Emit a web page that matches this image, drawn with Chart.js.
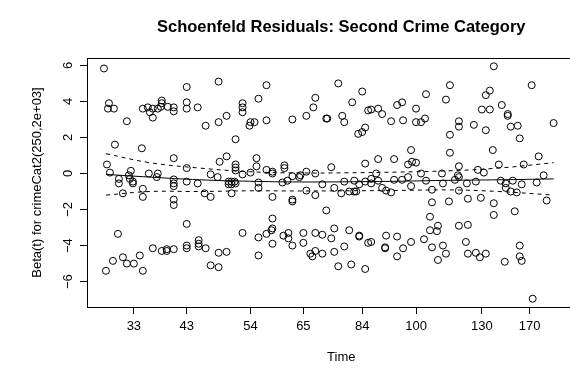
<!DOCTYPE html>
<html><head><meta charset="utf-8">
<script src="https://cdn.jsdelivr.net/npm/chart.js@4/dist/chart.umd.min.js"></script>
<style>html,body{margin:0;padding:0;overflow:hidden;background:#fff;width:570px;height:381px}
#wrap{position:relative;width:600px;height:381px}</style></head>
<body><div id="wrap"><canvas id="c" width="600" height="381"></canvas></div>
<script>
const chartTitle = 'Schoenfeld Residuals: Second Crime Category';
const xTitle = 'Time';
const yTitle = 'Beta(t) for crimeCat2(250,2e+03]';
// x axis is the KM-transformed time scale (arbitrary transformed units)
const xTickPos = [34, 87, 151, 204, 263, 317, 383, 431];
const xTickLabels = ['33', '43', '54', '65', '84', '100', '130', '170'];
const yTickVals = [-6, -4, -2, 0, 2, 4, 6];
const yTickLabels = ['\u22126', '\u22124', '\u22122', '0', '2', '4', '6'];

const residT = [4,9,8,14,27,15,42,43,48,50,53,53,58,62,62,61,68,74,74,87,87,87,98,106,119,119,127,74,127,120,
7,10,31,29,19,49,58,57,87,111,118,74,87,98,19,30,33,33,74,74,129,129,23,43,43,74,74,105,111,87,
18,53,62,67,67,74,87,87,99,99,99,106,119,127,6,13,23,27,34,40,43,111,119,167,159,143,143,143,150,151,
155,167,136,193,207,214,216,227,228,239,243,245,253,263,259,263,266,269,136,136,136,143,151,157,157,167,173,173,185,185,
193,200,201,207,216,232,266,132,135,159,183,188,223,245,255,266,132,136,159,235,132,173,193,193,207,216,242,250,255,257,
227,173,173,172,143,159,167,184,189,189,193,173,159,204,204,216,216,211,213,223,223,235,232,235,245,239,250,260,252,266,
269,395,351,347,387,391,327,298,303,272,279,283,317,292,304,317,322,326,383,391,403,409,409,412,419,421,360,360,351,375,
387,279,295,312,309,313,317,351,360,394,400,425,277,272,295,303,309,322,327,343,344,356,359,360,368,377,379,385,402,407,
414,260,272,279,283,287,292,312,333,360,407,412,418,423,333,350,369,382,331,395,395,416,339,331,338,360,369,260,272,287,
298,286,286,304,298,312,325,333,344,347,339,367,369,377,381,387,406,421,421,423,433,455,434,440,445,448,438];
const residBeta = [5.83,3.9,3.6,3.6,2.9,1.6,1.4,3.6,3.67,3.4,3.1,3.6,3.6,4.05,3.9,3.7,3.7,3.67,3.45,4.8,3.95,3.6,3.67,2.65,5.1,2.85,3.2,0.85,0.95,0.65,
0.5,0.05,0.15,-0.1,-0.3,0,0,-0.2,0.3,-0.05,-0.2,-0.33,-0.45,-0.55,-0.55,-0.3,-0.45,-0.55,-0.55,-0.7,-0.45,-0.6,-1.1,-0.85,-1.3,-1.45,-1.75,-1.1,-1.3,-2.8,
-3.35,-4.15,-4.3,-4.2,-4.3,-4.2,-4.0,-4.15,-3.7,-3.9,-4.05,-4.15,-4.4,-4.35,-5.4,-4.85,-4.65,-5.0,-5.0,-4.55,-5.4,-5.1,-5.2,4.9,4.15,3.9,3.67,3.4,2.65,2.85,
2.85,2.95,1.9,3.0,3.2,3.67,4.2,3.05,3.05,5.0,3.2,2.85,3.95,4.55,2.2,2.3,2.55,3.5,0.5,0.33,0.17,-0.05,0.05,0.85,0.4,0.2,0.1,0,0.45,0.3,
-0.15,-0.2,-0.1,0.1,0,0.35,0.55,-0.45,-0.45,-0.5,-0.5,-0.4,-0.6,-0.45,-0.4,-0.45,-0.6,-0.55,-0.8,-0.8,-1.1,-1.3,-1.45,-1.55,-0.95,-1.2,-1.1,-1.0,-1.0,-1.0,
-2.05,-2.5,-3.05,-3.15,-3.3,-3.55,-3.35,-3.45,-3.3,-3.6,-4.0,-3.9,-4.55,-3.3,-3.85,-3.3,-4.3,-4.45,-4.6,-3.4,-4.45,-3.05,-3.6,-4.35,-4.05,-5.15,-3.15,-3.5,-5.05,-5.3,
-3.85,5.95,4.9,4.1,4.35,4.6,4.4,3.8,3.95,3.55,3.6,3.3,3.6,2.9,2.95,2.85,2.85,3.05,3.55,3.55,3.8,3.3,3.2,2.6,2.65,1.95,2.9,2.6,2.15,2.7,
2.4,0.8,0.8,1.3,0.5,0.65,0.6,1.15,0.4,1.3,0.5,0.5,0,-0.3,-0.35,-0.35,-0.2,0,-0.4,0,-0.55,-0.35,-0.1,-0.2,-0.55,-0.45,0.2,0.05,-0.4,-0.55,
-0.4,-0.6,-0.55,-0.4,-0.8,-0.95,-1.05,-0.7,-0.9,-0.95,-0.8,-1.0,-1.05,-0.6,-1.6,-1.55,-1.4,-1.35,-2.4,-1.65,-2.3,-2.1,-2.9,-3.15,-3.2,-2.9,-2.85,-3.45,-3.8,-3.45,
-3.5,-4.1,-4.15,-4.15,-4.6,-3.8,-3.65,-4.1,-4.0,-4.45,-4.8,-3.8,-4.45,-4.4,-4.65,-4.45,-4.9,-4.0,-4.6,-4.85,4.9,2.8,-6.95,0.95,-0.1,-1.5,-0.5];

const fitT = [6, 50, 100, 150, 200, 250, 300, 350, 400, 455];
const fitBeta = [-0.05, -0.2, -0.35, -0.43, -0.47, -0.46, -0.43, -0.38, -0.35, -0.3];
const fitUpper = [1.1, 0.6, 0.3, 0.1, 0.03, 0.04, 0.08, 0.15, 0.3, 0.6];
const fitLower = [-1.2, -1.0, -1.0, -0.96, -0.97, -0.96, -0.94, -0.91, -1.0, -1.2];

const FONT = "'Liberation Sans', Arial, Helvetica, sans-serif";
const pts = residT.map((t, i) => ({x: t, y: residBeta[i]}));
const mk = arr => fitT.map((t, i) => ({x: t, y: arr[i]}));

const frame = {
  id: 'frame',
  afterDraw(chart) {
    const ctx = chart.ctx, a = chart.chartArea;
    ctx.save();
    ctx.strokeStyle = '#000'; ctx.lineWidth = 1;
    const l = Math.round(a.left) + 0.5, t = Math.round(a.top) + 0.5, r = Math.round(a.right) + 0.5, b = Math.round(a.bottom) + 0.5;
    ctx.strokeRect(l, t, r - l, b - t);
    ctx.fillStyle = '#000';
    const ys = chart.scales.y;
    ctx.font = '13px ' + FONT;
    ctx.textAlign = 'center'; ctx.textBaseline = 'middle';
    yTickVals.forEach((v, i) => {
      const py = ys.getPixelForValue(v);
      ctx.save(); ctx.translate(a.left - 19, py); ctx.rotate(-Math.PI / 2);
      ctx.fillText(yTickLabels[i], 0, 0); ctx.restore();
    });
    ctx.fillText(xTitle, (a.left + a.right) / 2, a.bottom + 50);
    ctx.save(); ctx.translate(a.left - 50, (a.top + a.bottom) / 2); ctx.rotate(-Math.PI / 2);
    ctx.fillText(yTitle, 0, 0); ctx.restore();
    ctx.font = 'bold 16.5px ' + FONT;
    ctx.fillText(chartTitle, (a.left + a.right) / 2, 27);
    ctx.restore();
  }
};

new Chart(document.getElementById('c'), {
  type: 'scatter',
  data: {datasets: [
    {data: pts, pointStyle: 'circle', pointRadius: 3.5, pointHoverRadius: 3.5, pointBorderWidth: 1,
     borderColor: '#000', backgroundColor: 'rgba(0,0,0,0)', showLine: false},
    {type: 'line', data: mk(fitBeta), borderColor: '#000', borderWidth: 1, pointRadius: 0, tension: 0.4, fill: false},
    {type: 'line', data: mk(fitUpper), borderColor: '#000', borderWidth: 1, borderDash: [4, 4], pointRadius: 0, tension: 0.4, fill: false},
    {type: 'line', data: mk(fitLower), borderColor: '#000', borderWidth: 1, borderDash: [4, 4], pointRadius: 0, tension: 0.4, fill: false}
  ]},
  options: {
    responsive: false, animation: false, devicePixelRatio: 1, events: [],
    layout: {padding: {top: 58, right: 3, left: 0, bottom: 0}},
    plugins: {legend: {display: false}, title: {display: false}, tooltip: {enabled: false}},
    scales: {
      x: {type: 'linear', min: -13, max: 497,
        afterBuildTicks: s => { s.ticks = xTickPos.map(v => ({value: v})); },
        afterFit: s => { s.height = 74; },
        grid: {drawOnChartArea: false, drawTicks: true, tickLength: 7, color: '#000', lineWidth: 1},
        border: {display: true, color: '#000', width: 1},
        ticks: {display: true, autoSkip: false, maxRotation: 0, minRotation: 0, color: '#000',
          font: {family: FONT, size: 13}, padding: 5,
          callback: (v, i) => xTickLabels[i]}},
      y: {type: 'linear', min: -7.41, max: 6.41,
        afterBuildTicks: s => { s.ticks = yTickVals.map(v => ({value: v})); },
        afterFit: s => { s.width = 87; },
        grid: {drawOnChartArea: false, drawTicks: true, tickLength: 7, color: '#000', lineWidth: 1},
        border: {display: true, color: '#000', width: 1},
        ticks: {display: false}}
    }
  },
  plugins: [frame]
});
</script></body></html>
